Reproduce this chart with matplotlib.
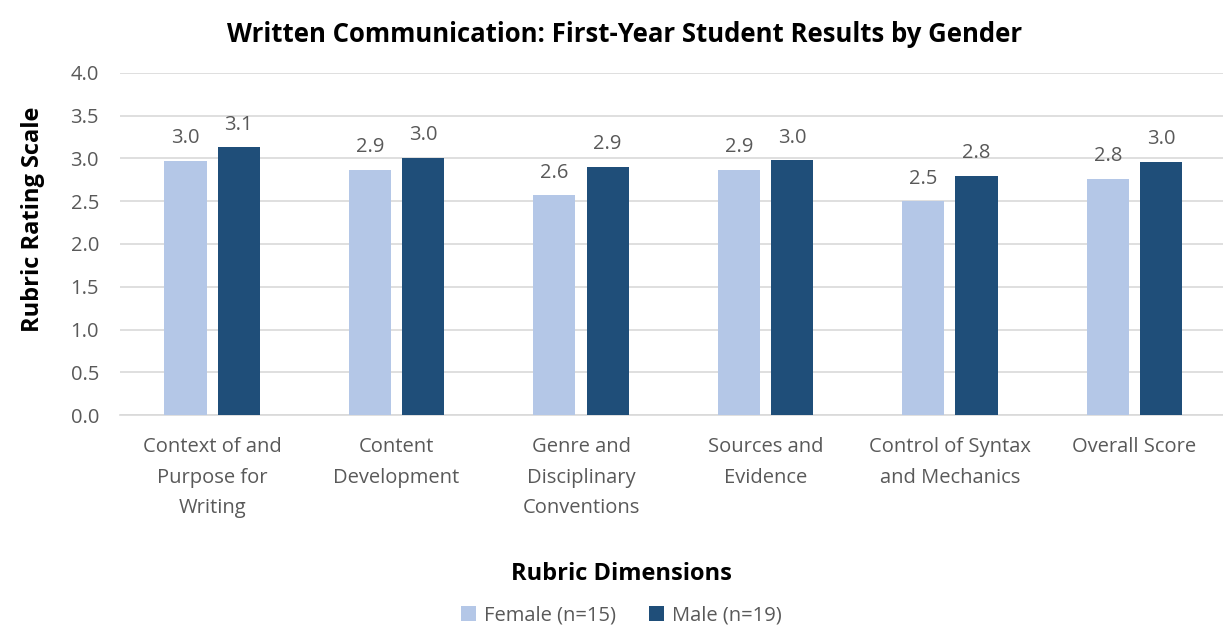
import numpy as np
import matplotlib
matplotlib.use("Agg")
import matplotlib.pyplot as plt

plt.rcParams['font.family'] = ['Open Sans', 'DejaVu Sans']

categories = ['Context of and\nPurpose for\nWriting', 'Content\nDevelopment',
              'Genre and\nDisciplinary\nConventions', 'Sources and\nEvidence',
              'Control of Syntax\nand Mechanics', 'Overall Score']
female = [2.97, 2.87, 2.57, 2.87, 2.50, 2.76]
male = [3.13, 3.01, 2.90, 2.98, 2.80, 2.96]
female_labels = ['3.0', '2.9', '2.6', '2.9', '2.5', '2.8']
male_labels = ['3.1', '3.0', '2.9', '3.0', '2.8', '3.0']

light = '#B4C7E7'
dark = '#1F4E79'
gray = '#595959'

fig = plt.figure(figsize=(12.23, 6.28), dpi=100)
ax = fig.add_axes([0.098, 0.339, 0.905, 0.545])

x = np.arange(len(categories))
w = 0.228
off = 0.144
b1 = ax.bar(x - off, female, w, color=light, label='Female (n=15)', zorder=3)
b2 = ax.bar(x + off, male, w, color=dark, label='Male (n=19)', zorder=3)
ax.bar_label(b1, labels=female_labels, padding=9, fontsize=14.5, color=gray)
ax.bar_label(b2, labels=male_labels, padding=9, fontsize=14.5, color=gray)

ax.set_xlim(-0.5, 5.5)
ax.set_ylim(0, 4.0)
ax.set_yticks(np.arange(0, 4.01, 0.5))
ax.set_yticklabels([f'{v:.1f}' for v in np.arange(0, 4.01, 0.5)])
ax.set_xticks(x)
ax.set_xticklabels(categories, fontsize=14.5, color=gray, linespacing=1.68)
ax.tick_params(axis='y', labelsize=14.5, labelcolor=gray, length=0, pad=15)
ax.tick_params(axis='x', length=0, pad=16)
ax.yaxis.grid(True, color='#D9D9D9', linewidth=1.2, zorder=0)
for s in ['top', 'right', 'left']:
    ax.spines[s].set_visible(False)
ax.spines['bottom'].set_color('#D9D9D9')
ax.spines['bottom'].set_linewidth(1.2)

ax.set_title('Written Communication: First-Year Student Results by Gender',
             fontsize=18.5, fontweight='bold', pad=22, x=0.456)
ax.set_ylabel('Rubric Rating Scale', fontsize=17, fontweight='bold')
ax.yaxis.set_label_coords(-0.068, 0.573)
fig.text(0.508, 0.076, 'Rubric Dimensions', ha='center', fontsize=17, fontweight='bold')

fig.legend(loc='center', bbox_to_anchor=(0.508, 0.02), ncol=2, frameon=False,
           fontsize=14.5, labelcolor=gray, handlelength=0.75, handleheight=0.75,
           columnspacing=1.6, handletextpad=0.4)

fig.savefig('out.png', dpi=100)
